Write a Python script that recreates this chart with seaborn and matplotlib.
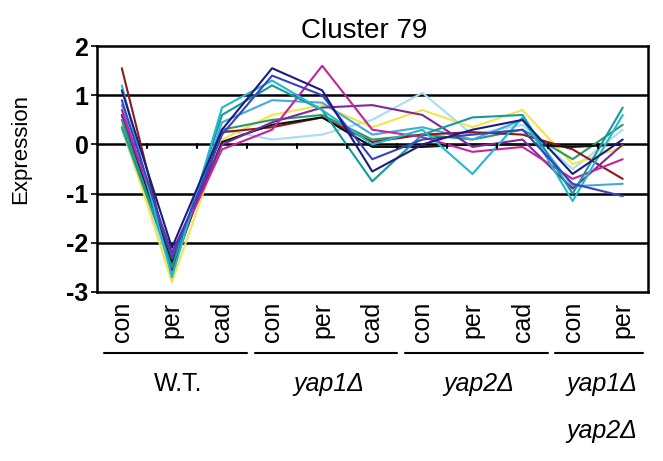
import matplotlib.pyplot as plt
import matplotlib.transforms as mtransforms
import seaborn as sns
import numpy as np
import pandas as pd

# conditions along the x axis
conditions = ['con', 'per', 'cad', 'con', 'per', 'cad', 'con', 'per', 'cad', 'con', 'per']
groups = ['W.T.', 'yap1\u0394', 'yap2\u0394', 'yap1\u0394\nyap2\u0394']
group_sizes = [3, 3, 3, 2]

# expression profiles (one per gene)
maroon = [1.55, -2.55, 0.25, 0.35, 0.55, 0.05, 0.2, 0.25, 0.2, -0.1, -0.7]
navy = [1.1, -2.1, 0.3, 1.55, 1.1, -0.55, 0.0, 0.3, 0.5, -0.6, 0.1]
blue = [0.9, -2.3, 0.2, 1.4, 1.0, -0.3, 0.1, 0.2, 0.3, -0.8, -1.05]
magenta = [0.7, -2.3, -0.1, 0.3, 1.6, 0.3, 0.15, -0.15, -0.05, -0.7, -0.3]
purple = [0.6, -2.2, 0.0, 0.45, 0.75, 0.8, 0.6, -0.05, 0.1, -0.9, 0.0]
cyan = [1.2, -2.7, 0.75, 1.3, 0.7, 0.0, 0.3, -0.6, 0.55, -1.15, 0.6]
teal = [0.5, -2.5, 0.6, 1.2, 0.7, -0.75, 0.2, 0.55, 0.6, -1.0, 0.75]
yellow = [0.4, -2.8, 0.1, 0.6, 0.8, 0.35, 0.7, 0.35, 0.7, -0.4, -0.05]
lightblue = [0.3, -2.6, 0.3, 0.1, 0.2, 0.5, 1.05, 0.2, 0.4, -0.5, 0.3]
black = [0.6, -2.4, 0.05, 0.4, 0.55, -0.05, -0.05, 0.0, 0.0, -0.05, 0.0]
green = [0.35, -2.45, 0.3, 0.5, 0.6, 0.1, 0.2, 0.1, 0.3, -0.3, 0.4]
skyblue = [0.8, -2.6, 0.45, 0.9, 0.85, 0.2, 0.35, 0.1, 0.5, -0.85, -0.8]

profiles = {
    'lightblue': lightblue, 'yellow': yellow, 'green': green, 'skyblue': skyblue,
    'maroon': maroon, 'black': black, 'purple': purple, 'magenta': magenta,
    'teal': teal, 'cyan': cyan, 'blue': blue, 'navy': navy,
}
colors = {
    'maroon': '#8b1a1a', 'navy': '#1c1c80', 'blue': '#3644c0', 'magenta': '#c4249c',
    'purple': '#7a2a9a', 'cyan': '#22b8d0', 'teal': '#139a9a', 'yellow': '#f2e44a',
    'lightblue': '#a8dcf2', 'black': '#111111', 'green': '#2a9a6a', 'skyblue': '#44a8e0',
}

rows = []
for gene, vals in profiles.items():
    for i, v in enumerate(vals):
        rows.append({'gene': gene, 'pos': i, 'expr': v})
df = pd.DataFrame(rows)

sns.set_style('white')
plt.rcParams['font.family'] = ['Liberation Sans', 'DejaVu Sans']
plt.rcParams['text.color'] = 'black'

fig = plt.figure(figsize=(6.63, 4.61), dpi=100)
ax = fig.add_axes([0.146, 0.3666, 0.831, 0.5334])

sns.lineplot(data=df, x='pos', y='expr', hue='gene', palette=colors,
             sort=False, estimator=None, linewidth=1.5, legend=False, ax=ax)

ax.set_xlim(-0.5, len(conditions) - 0.5)
ax.set_ylim(-3, 2)
ax.set_yticks([2, 1, 0, -1, -2, -3])
ax.set_yticklabels(['2', '1', '0', '-1', '-2', '-3'], fontsize=18, fontweight='bold',
                   color='black')
for y in [1, 0, -1, -2]:
    ax.axhline(y, color='black', linewidth=1.8, zorder=0)
for s in ax.spines.values():
    s.set_color('black')
    s.set_linewidth(1.8)

# small category ticks on the zero line
for b in np.arange(0.5, len(conditions) - 1, 1.0):
    ax.plot([b, b], [0, -0.08], color='black', linewidth=1.5)

ax.set_xticks(range(len(conditions)))
ax.set_xticklabels(conditions, rotation=90, fontsize=18, color='black')
ax.tick_params(axis='x', length=0, pad=7)
ax.tick_params(axis='y', length=4, width=1.2, color='black', pad=2, left=True)
ax.set_xlabel('')
ax.set_ylabel('Expression', fontsize=16, color='black')
ax.yaxis.set_label_coords(-0.12, 0.58)
ax.set_title('Cluster 79', fontsize=20, x=0.485, pad=6, color='black')

trans = mtransforms.blended_transform_factory(ax.transData, ax.transAxes)
start = 0
for name, n in zip(groups, group_sizes):
    x0, x1 = start - 0.35, start + n - 1 + 0.5
    if start + n == len(conditions):
        x1 = start + n - 1 + 0.4
    ax.plot([x0, x1], [-0.248, -0.248], color='black', linewidth=1.5,
            transform=trans, clip_on=False)
    style = 'normal' if name == 'W.T.' else 'italic'
    for k, part in enumerate(name.split('\n')):
        ax.text((x0 + x1) / 2 + 0.05, -0.375 - 0.19 * k, part, transform=trans,
                ha='center', va='center', fontsize=18, style=style)
    start += n

fig.savefig('out.png', dpi=100)
